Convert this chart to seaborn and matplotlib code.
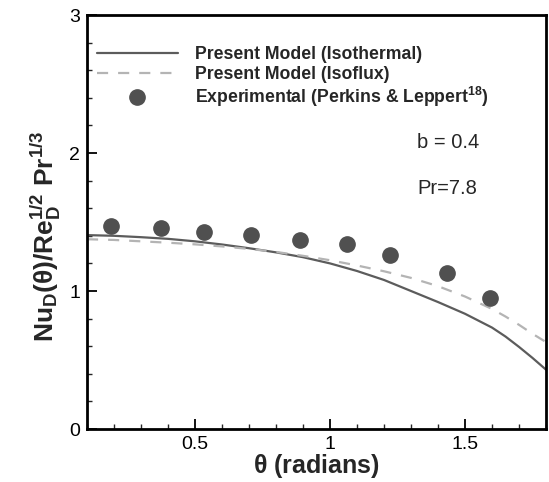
import matplotlib
matplotlib.use("Agg")
import matplotlib.pyplot as plt
import seaborn as sns
import pandas as pd
from matplotlib.ticker import MultipleLocator

# Model curves
theta_model = [0.1, 0.2, 0.3, 0.4, 0.5, 0.6, 0.7, 0.8, 0.9, 1.0, 1.1, 1.2,
               1.3, 1.4, 1.5, 1.6, 1.65, 1.7, 1.75, 1.8]
nu_isothermal = [1.405, 1.4, 1.39, 1.378, 1.36, 1.337, 1.31, 1.28, 1.245, 1.2,
                 1.145, 1.08, 1.0, 0.92, 0.835, 0.735, 0.67, 0.595, 0.515, 0.43]
nu_isoflux = [1.375, 1.37, 1.36, 1.35, 1.338, 1.323, 1.305, 1.283, 1.255, 1.223,
              1.185, 1.143, 1.095, 1.035, 0.96, 0.87, 0.815, 0.755, 0.69, 0.63]

# Experimental (Perkins & Leppert)
theta_exp = [0.189, 0.374, 0.534, 0.707, 0.889, 1.062, 1.222, 1.432, 1.593]
nu_exp = [1.471, 1.459, 1.43, 1.408, 1.37, 1.338, 1.261, 1.128, 0.947]

labels = ["Present Model (Isothermal)", "Present Model (Isoflux)",
          "Experimental (Perkins & Leppert$^{\\mathbf{18}}$)"]

sns.set_style("ticks")
plt.rcParams['font.family'] = ['Liberation Sans', 'DejaVu Sans']
plt.rcParams['mathtext.fontset'] = 'custom'
plt.rcParams['mathtext.rm'] = 'Liberation Sans'
plt.rcParams['mathtext.it'] = 'Liberation Sans'
plt.rcParams['mathtext.bf'] = 'Liberation Sans:bold'

fig = plt.figure(figsize=(5.49, 4.82), dpi=100)
ax = fig.add_axes([87/549, 53/482, 459/549, 414/482])

df_iso = pd.DataFrame({"theta": theta_model, "nu": nu_isothermal})
df_flux = pd.DataFrame({"theta": theta_model, "nu": nu_isoflux})
df_exp = pd.DataFrame({"theta": theta_exp, "nu": nu_exp})

sns.lineplot(data=df_iso, x="theta", y="nu", ax=ax, color="#5c5c5c", lw=1.6,
             label=labels[0], estimator=None, sort=False)
sns.lineplot(data=df_flux, x="theta", y="nu", ax=ax, color="#b4b4b4", lw=1.6,
             label=labels[1], estimator=None, sort=False)
ax.lines[-1].set_dashes([5, 4.5])
ax.plot(df_exp["theta"], df_exp["nu"], linestyle="none", marker="o", ms=11,
        color="#505050", label=labels[2])

ax.set_xlim(0.1, 1.8)
ax.set_ylim(0, 3)
ax.xaxis.set_minor_locator(MultipleLocator(0.1))
ax.yaxis.set_minor_locator(MultipleLocator(0.2))
ax.set_xticks([0.5, 1.0, 1.5])
ax.set_xticklabels(["0.5", "1", "1.5"])
ax.set_yticks([0, 1, 2, 3])
ax.set_yticklabels(["0", "1", "2", "3"])
ax.tick_params(which="major", direction="in", length=7, width=1.3, labelsize=14,
               pad=5, colors="black")
ax.tick_params(which="minor", direction="in", length=3.5, width=1.0)
for s in ax.spines.values():
    s.set_linewidth(2)
    s.set_color("black")

ax.set_xlabel(r"$\mathbf{\theta}$ (radians)", fontsize=18, fontweight="bold")
ax.xaxis.set_label_coords(0.5, -0.056)
ax.set_ylabel(r"$\mathbf{Nu_D(\theta)/Re_D^{1/2}\ Pr^{1/3}}$", fontsize=19)
ax.yaxis.set_label_coords(-0.052, 0.466)

leg = ax.legend(loc="upper left", bbox_to_anchor=(0.006, 0.942), frameon=False,
                handlelength=4.6, handletextpad=0.95, labelspacing=0.15,
                prop={"weight": "bold", "size": 12.7}, borderaxespad=0)

ax.text(417/549, 1 - 143/482, "b = 0.4", transform=fig.transFigure, fontsize=14.5,
        va="center", ha="left")
ax.text(417/549, 1 - 188/482, "Pr=7.8", transform=fig.transFigure, fontsize=14.5,
        va="center", ha="left")

fig.savefig("out.png", dpi=100)
